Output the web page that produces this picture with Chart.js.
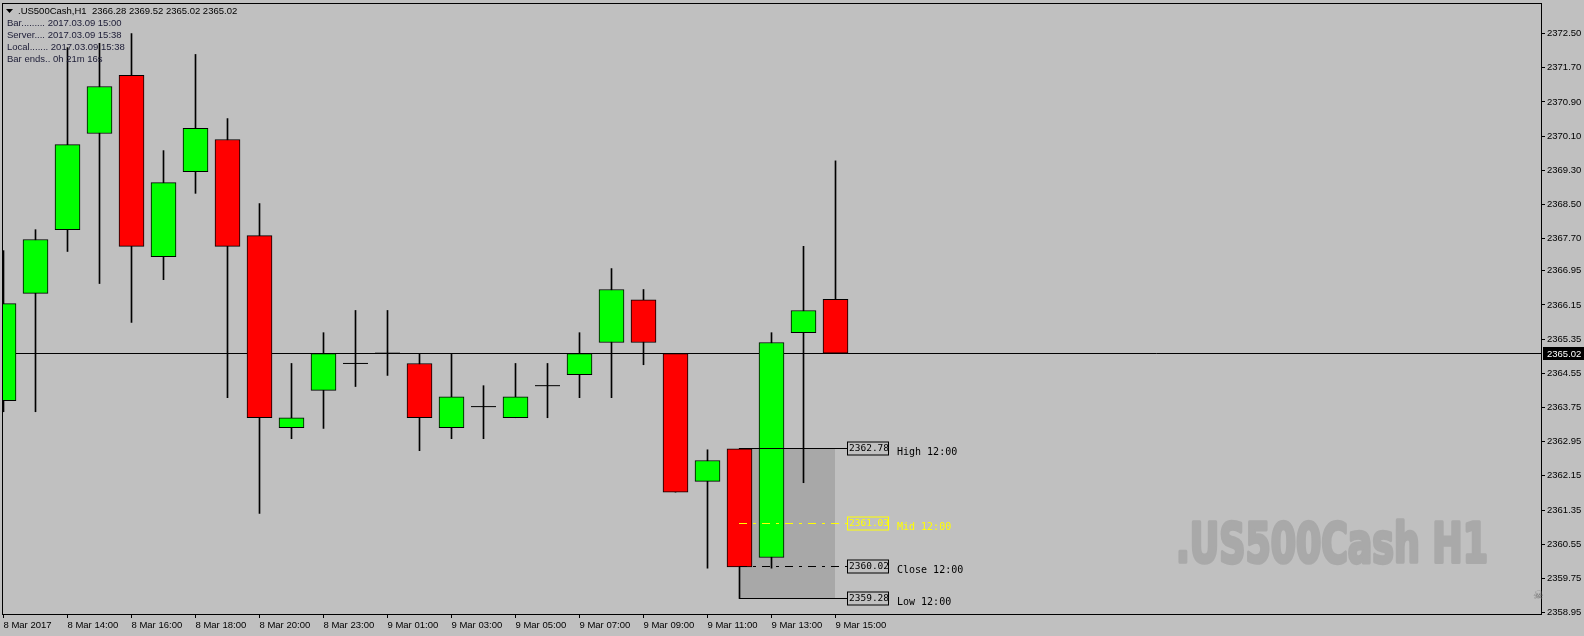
<!DOCTYPE html>
<html>
<head>
<meta charset="utf-8">
<title>.US500Cash,H1</title>
<script src="https://cdn.jsdelivr.net/npm/chart.js@4.4.1/dist/chart.umd.min.js"></script>
<style>
    html, body { margin: 0; padding: 0; background: #C0C0C0; }
    #chartWrap { width: 1584px; height: 636px; }
</style>
</head>
<body>
<div id="chartWrap"><canvas id="priceChart" width="1584" height="636"></canvas></div>
<script>
/* hourly bars, 8 Mar 12:00 .. 9 Mar 15:00 (22:00 missing) */
var barTimes = ["8 Mar 12:00", "8 Mar 13:00", "8 Mar 14:00", "8 Mar 15:00", "8 Mar 16:00", "8 Mar 17:00",
    "8 Mar 18:00", "8 Mar 19:00", "8 Mar 20:00", "8 Mar 21:00", "8 Mar 23:00", "9 Mar 00:00",
    "9 Mar 01:00", "9 Mar 02:00", "9 Mar 03:00", "9 Mar 04:00", "9 Mar 05:00", "9 Mar 06:00",
    "9 Mar 07:00", "9 Mar 08:00", "9 Mar 09:00", "9 Mar 10:00", "9 Mar 11:00", "9 Mar 12:00",
    "9 Mar 13:00", "9 Mar 14:00", "9 Mar 15:00"];
var opens = [2363.91, 2366.42, 2367.91, 2370.16, 2371.52, 2367.28, 2369.27, 2370.02, 2367.77, 2363.28,
    2364.15, 2364.78, 2365.02, 2364.78, 2363.28, 2363.77, 2363.51, 2364.26, 2364.52, 2365.27,
    2366.27, 2365.01, 2362.02, 2362.78, 2360.24, 2365.50, 2366.28];
var highs = [2367.42, 2367.91, 2372.17, 2372.27, 2372.50, 2369.76, 2372.01, 2370.51, 2368.52, 2364.78,
    2365.50, 2366.02, 2366.02, 2365.01, 2365.01, 2364.26, 2364.78, 2364.78, 2365.50, 2367.00,
    2366.51, 2365.01, 2362.76, 2362.78, 2365.50, 2367.52, 2369.52];
var lows = [2363.65, 2363.65, 2367.40, 2366.65, 2365.74, 2366.74, 2368.76, 2363.98, 2361.27, 2363.02,
    2363.26, 2364.24, 2364.50, 2362.74, 2363.02, 2363.02, 2363.51, 2363.51, 2363.98, 2363.98,
    2364.75, 2361.77, 2359.99, 2359.28, 2359.99, 2361.99, 2365.02];
var closes = [2366.18, 2367.68, 2369.90, 2371.26, 2367.52, 2369.01, 2370.28, 2367.52, 2363.51, 2363.51,
    2365.01, 2364.78, 2365.02, 2363.51, 2364.00, 2363.77, 2364.00, 2364.26, 2365.01, 2366.51,
    2365.27, 2361.77, 2362.51, 2360.02, 2365.27, 2366.02, 2365.02];

/* axis labels */
var xTickIdx = [0, 2, 4, 6, 8, 10, 12, 14, 16, 18, 20, 22, 24, 26];
var xTickLabels = ["8 Mar 2017", "8 Mar 14:00", "8 Mar 16:00", "8 Mar 18:00", "8 Mar 20:00", "8 Mar 23:00",
    "9 Mar 01:00", "9 Mar 03:00", "9 Mar 05:00", "9 Mar 07:00", "9 Mar 09:00", "9 Mar 11:00",
    "9 Mar 13:00", "9 Mar 15:00"];
var yTicks = [2372.50, 2371.70, 2370.90, 2370.10, 2369.30, 2368.50, 2367.70, 2366.95, 2366.15,
    2365.35, 2364.55, 2363.75, 2362.95, 2362.15, 2361.35, 2360.55, 2359.75, 2358.95];

/* levels of the 12:00 bar */
var levelBar = 23;
var levelNames = ["High", "Mid", "Close", "Low"];
var levelValues = [2362.78, 2361.03, 2360.02, 2359.28];

var currentPrice = 2365.02;
var infoLines = ["Bar......... 2017.03.09 15:00", "Server.... 2017.03.09 15:38",
    "Local....... 2017.03.09 15:38", "Bar ends.. 0h 21m 16s"];

var BG = "#C0C0C0";
var UI_FONT = "Liberation Sans, Arial, sans-serif";
var MONO_FONT = "DejaVu Sans Mono, Liberation Mono, monospace";

/* build datasets */
var wickData = [], bodyData = [], bodyColors = [], dojiData = [];
for (var i = 0; i < opens.length; i++) {
    wickData.push({ x: i, y: [lows[i], highs[i]] });
    if (opens[i] == closes[i]) {
        dojiData.push({ x: i, y: opens[i] });
    } else {
        bodyData.push({ x: i, y: [opens[i], closes[i]] });
        bodyColors.push(closes[i] > opens[i] ? "#00FF00" : "#FF0000");
    }
}

function crisp(v) {
    return Math.round(v - 0.5) + 0.5;
}

/* background, price line, shading box, watermark */
var backPlugin = {
    id: "backPlugin",
    beforeDraw: function (chart) {
        var ctx = chart.ctx;
        ctx.save();
        ctx.fillStyle = BG;
        ctx.fillRect(0, 0, chart.width, chart.height);
        ctx.restore();
    },
    beforeDatasetsDraw: function (chart) {
        var ctx = chart.ctx, xs = chart.scales.x, ys = chart.scales.y, area = chart.chartArea;
        ctx.save();
        // shaded range of the 12:00 bar
        var x0 = xs.getPixelForValue(levelBar) - 0.5;
        var x1 = xs.getPixelForValue(levelBar + 3) - 0.5;
        var yHi = ys.getPixelForValue(levelValues[0]);
        var yLo = ys.getPixelForValue(levelValues[3]);
        ctx.fillStyle = "#A8A8A8";
        ctx.fillRect(x0, yHi, x1 - x0, yLo - yHi);

        // watermark
        ctx.fillStyle = "#A9A9A9";
        ctx.strokeStyle = "#A9A9A9";
        ctx.lineWidth = 3.5;
        ctx.lineJoin = "round";
        ctx.font = "bold 56px 'Liberation Sans Narrow', 'DejaVu Sans Condensed', 'Liberation Sans', sans-serif";
        ctx.textBaseline = "alphabetic";
        var wm = ".US500Cash H1";
        var w = ctx.measureText(wm).width;
        ctx.translate(1176, 562);
        ctx.scale(312 / w, 1);
        ctx.strokeText(wm, 0, 0);
        ctx.fillText(wm, 0, 0);
        ctx.setTransform(1, 0, 0, 1, 0, 0);

        // current price line
        var yc = crisp(ys.getPixelForValue(currentPrice));
        ctx.strokeStyle = "#000";
        ctx.lineWidth = 1;
        ctx.beginPath();
        ctx.moveTo(area.left, yc);
        ctx.lineTo(area.right, yc);
        ctx.stroke();
        ctx.restore();
    }
};

/* High / Mid / Close / Low lines with their labels */
var levelPlugin = {
    id: "levelPlugin",
    afterDatasetsDraw: function (chart) {
        var ctx = chart.ctx, xs = chart.scales.x, ys = chart.scales.y;
        var xStart = xs.getPixelForValue(levelBar) - 0.5;
        var boxLeft = xs.getPixelForValue(levelBar + 3) + 11.5;
        ctx.save();
        ctx.lineWidth = 1;
        for (var k = 0; k < levelValues.length; k++) {
            var y = crisp(ys.getPixelForValue(levelValues[k]));
            var col = levelNames[k] == "Mid" ? "#FFFF00" : "#000";
            ctx.strokeStyle = col;
            if (levelNames[k] == "Mid" || levelNames[k] == "Close") {
                ctx.setLineDash([8, 6, 3, 6]);
            } else {
                ctx.setLineDash([]);
            }
            ctx.beginPath();
            ctx.moveTo(xStart, y);
            ctx.lineTo(boxLeft, y);
            ctx.stroke();
            ctx.setLineDash([]);

            ctx.strokeRect(boxLeft + 0.5, y - 6.5, 41, 13);
            ctx.fillStyle = col;
            ctx.font = "9.5px " + MONO_FONT;
            ctx.textBaseline = "middle";
            ctx.textAlign = "left";
            ctx.fillText(levelValues[k].toFixed(2), boxLeft + 2, y + 0.5);
            ctx.font = "10px " + MONO_FONT;
            ctx.fillText(levelNames[k] + " " + barTimes[levelBar].split(" ")[2], boxLeft + 50, y + 4);
        }
        ctx.restore();
    }
};

/* frame, price tag, info text */
var frontPlugin = {
    id: "frontPlugin",
    afterDraw: function (chart) {
        var ctx = chart.ctx, ys = chart.scales.y, area = chart.chartArea;
        ctx.save();
        ctx.strokeStyle = "#000";
        ctx.lineWidth = 1;
        ctx.strokeRect(area.left + 0.5, area.top + 0.5, area.right - area.left, area.bottom - area.top);

        // price tag on the axis
        var yc = Math.round(ys.getPixelForValue(currentPrice));
        ctx.fillStyle = "#000";
        ctx.fillRect(area.right + 2, yc - 6, chart.width - area.right - 2, 13);
        ctx.fillStyle = "#FFF";
        ctx.font = "9.5px " + UI_FONT;
        ctx.textBaseline = "middle";
        ctx.textAlign = "left";
        ctx.fillText(currentPrice.toFixed(2), area.right + 6, yc + 1);

        // header
        ctx.fillStyle = "#000";
        ctx.beginPath();
        ctx.moveTo(6, 9);
        ctx.lineTo(13, 9);
        ctx.lineTo(9.5, 13);
        ctx.closePath();
        ctx.fill();
        ctx.fillText(".US500Cash,H1  " + opens[opens.length - 1].toFixed(2) + " " + highs[highs.length - 1].toFixed(2) + " " +
            lows[lows.length - 1].toFixed(2) + " " + closes[closes.length - 1].toFixed(2), 18, 11);
        ctx.fillStyle = "#1C1C36";
        for (var n = 0; n < infoLines.length; n++) {
            ctx.fillText(infoLines[n], 7, 23 + n * 12);
        }

        // little skull icon
        ctx.fillStyle = "#7A7A7A";
        ctx.font = "12px DejaVu Sans";
        ctx.fillText("\u2620", area.right - 8, area.bottom - 18);
        ctx.restore();
    }
};

var chartDiv = document.getElementById("priceChart");
var myChart = new Chart(chartDiv, {
    type: "bar",
    data: {
        datasets: [
            {
                type: "bar",
                data: wickData,
                backgroundColor: "#000",
                borderWidth: 0,
                barThickness: 1,
                grouped: false,
                order: 3
            },
            {
                type: "bar",
                data: bodyData,
                backgroundColor: bodyColors,
                borderColor: "#000",
                borderWidth: 1,
                borderSkipped: false,
                barThickness: 25,
                grouped: false,
                order: 2
            },
            {
                type: "scatter",
                data: dojiData,
                pointStyle: "line",
                pointRadius: 12.5,
                borderColor: "#000",
                borderWidth: 1,
                clip: false,
                order: 1
            }
        ]
    },
    options: {
        responsive: false,
        animation: false,
        devicePixelRatio: 1,
        layout: { autoPadding: false, padding: { left: 2, top: 3, right: 0, bottom: 0 } },
        plugins: {
            legend: { display: false },
            tooltip: { enabled: false }
        },
        scales: {
            x: {
                type: "linear",
                min: -0.046875,
                max: 48.046875,
                offset: false,
                grid: { offset: false, drawOnChartArea: false, drawTicks: true, tickLength: 4, color: "#000" },
                border: { display: false },
                ticks: {
                    autoSkip: false,
                    maxRotation: 0,
                    align: "start",
                    padding: 2,
                    color: "#000",
                    font: { family: UI_FONT, size: 9.5 },
                    callback: function (value) {
                        var p = xTickIdx.indexOf(value);
                        return p >= 0 ? xTickLabels[p] : "";
                    }
                },
                afterBuildTicks: function (axis) {
                    axis.ticks = xTickIdx.map(function (v) { return { value: v }; });
                },
                afterFit: function (axis) {
                    axis.height = 22;
                    axis.paddingLeft = 0;
                    axis.paddingRight = 0;
                }
            },
            y: {
                type: "linear",
                position: "right",
                min: 2358.918,
                max: 2373.2136,
                grid: { drawOnChartArea: false, drawTicks: true, tickLength: 4, color: "#000" },
                border: { display: false },
                ticks: {
                    autoSkip: false,
                    padding: 2,
                    color: "#000",
                    font: { family: UI_FONT, size: 9.5 },
                    callback: function (value) {
                        return Number(value).toFixed(2);
                    }
                },
                afterBuildTicks: function (axis) {
                    axis.ticks = yTicks.map(function (v) { return { value: v }; });
                },
                afterFit: function (axis) {
                    axis.width = 43;
                    axis.paddingTop = 0;
                    axis.paddingBottom = 0;
                }
            }
        }
    },
    plugins: [backPlugin, levelPlugin, frontPlugin]
});
</script>
</body>
</html>
